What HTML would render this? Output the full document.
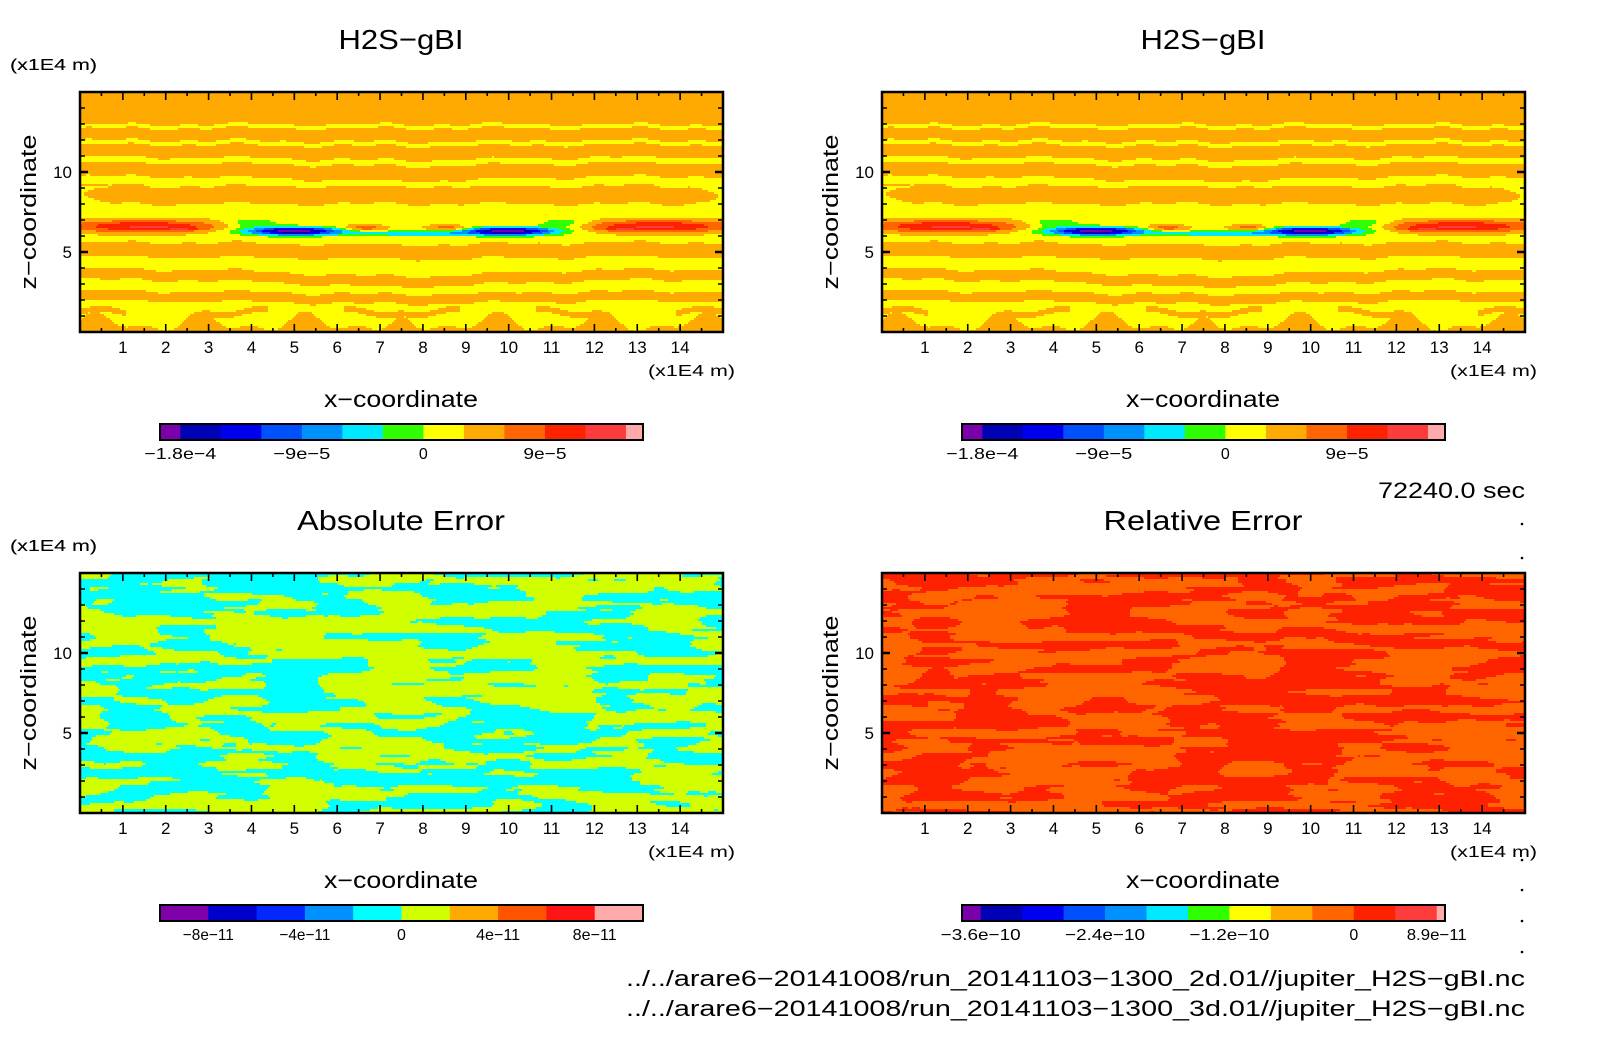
<!DOCTYPE html>
<html><head><meta charset="utf-8"><style>
html,body{margin:0;padding:0;background:#fff;}
#root{position:relative;width:1604px;height:1054px;overflow:hidden;background:#fff;font-family:"Liberation Sans",sans-serif;}
canvas{position:absolute;image-rendering:pixelated;}
svg{position:absolute;left:0;top:0;}
</style></head><body>
<div id="root">
<canvas id="c0"></canvas>
<canvas id="c1"></canvas>
<canvas id="c2"></canvas>
<canvas id="c3"></canvas>
<svg id="s" width="1604" height="1054"></svg>
</div>
<script>
// ---- data ----
const xTicks = [1,2,3,4,5,6,7,8,9,10,11,12,13,14];
const yTicks = [5,10];
const panelTitles = ["H2S\u2212gBI","H2S\u2212gBI","Absolute Error","Relative Error"];
const titleLens = [125,125,208,199];
const mainColors = ["#7a00aa","#0000b4","#0000f0","#0050ff","#0090ff","#00e8ff","#30ff00","#ffff00","#ffaa00","#ff6600","#ff2200","#ff3c3c","#ffaaaa"];
const mainLevels = [-2.1e-4,-1.8e-4,-1.5e-4,-1.2e-4,-9e-5,-6e-5,-3e-5,0,3e-5,6e-5,9e-5,1.2e-4];
const mainLabels = ["\u22121.8e\u22124","\u22129e\u22125","0","9e\u22125"];
const mainLabelLens = [72,57,0,43];
const mainLabelIdx = [1,4,7,10];
const absColors = ["#8000aa","#0000cc","#0028ff","#0090ff","#00ffff","#d2ff00","#ffaa00","#ff5500","#ff1414","#ffaaaa"];
const absLabels = ["\u22128e\u221211","\u22124e\u221211","0","4e\u221211","8e\u221211"];
const absLabelLens = [51,51,0,44,44];
const absLabelIdx = [1,3,5,7,9];
const relLabels = ["\u22123.6e\u221210","\u22122.4e\u221210","\u22121.2e\u221210","0","8.9e\u221211"];
const relLabelLens = [80,80,80,0,60];
const relLabelIdx = [1,4,7,10,12];
// blobs: x, z, sx, sz, amplitude
const blobX = [1.5,13.5,6.6,8.6,5.0,10.0,7.7,4.0,11.3,2.4,12.6];
const blobZ = [6.6,6.6,6.5,6.5,6.3,6.3,6.15,6.8,6.8,6.45,6.45];
const blobSX = [1.8,1.8,0.5,0.5,1.1,1.1,1.3,0.6,0.6,0.4,0.4];
const blobSZ = [0.38,0.38,0.18,0.18,0.25,0.25,0.15,0.3,0.3,0.1,0.1];
const blobAmp = [1.05e-4,1.05e-4,7e-5,7e-5,-2.25e-4,-2.25e-4,-8e-5,-5e-5,-5e-5,4e-5,4e-5];
// upper thin yellow lines (z centre, half width, centre dip)
const yLineZ = [12.85,11.85,10.75,9.45];
const yLineHW = [0.12,0.13,0.18,0.28];
const yLineDip = [0.0,0.1,0.2,0.3];
// lower orange bands (z centre, half width, centre sag)
const oBandZ = [8.55,5.15,3.6,2.25];
const oBandHW = [0.55,0.45,0.33,0.3];
const oBandSag = [0.0,0.15,0.45,0.2];

const plotW=643, plotH=240;
const panels=[[80,92],[882,92],[80,573],[882,573]];
const xs=v=>v/15*plotW, zs=v=>plotH-v/15*plotH;

// ---- fields ----
function mainVal(x,z){
  const c=Math.exp(-(((x-7.5)/3.2)**2));
  const w=0.08*Math.sin(2.1*x)+0.06*Math.sin(5.3*x+1);
  let v;
  if(z>9.1){
    v=1e-5;
    for(let i=0;i<yLineZ.length;i++){const zc=yLineZ[i]-yLineDip[i]*c+w;if(Math.abs(z-zc)<yLineHW[i])v=-1e-5;}
  } else {
    v=-1e-5;
    for(let i=0;i<oBandZ.length;i++){const zc=oBandZ[i]-oBandSag[i]*c+w;let hw=oBandHW[i];
      if(i===0){const e=Math.min(x,15-x);if(e<0.8)hw*=Math.sqrt(Math.max(0,e-0.1)/0.7);}
      if(Math.abs(z-zc)<hw)v=1e-5;}
    if(z<1.7){
      const xm=Math.min(x,15-x);
      const h=0.55+0.45*Math.sin(2.6*xm+0.4)+0.3*Math.sin(5.1*xm);
      if(z<h)v=1e-5;
      const h2=1.25+0.2*Math.sin(3.3*xm);
      if(Math.abs(z-h2)<0.18&&Math.sin(1.9*xm+1)>0.1)v=1e-5;
    }
  }
  for(let i=0;i<blobX.length;i++){
    v+=blobAmp[i]*Math.exp(-((((x-blobX[i])/blobSX[i])**2)+(((z-blobZ[i])/blobSZ[i])**2)));
  }
  return v;
}
function colorFor(v){let i=0;while(i<mainLevels.length&&v>=mainLevels[i])i++;return mainColors[i];}
function hash(i,j,s){let h=(i*374761393+j*668265263+s*1442695041)|0;h=(h^(h>>>13))*1274126177|0;h=h^(h>>>16);return (h>>>0)/4294967296;}
function vnoise(x,y,s){const i=Math.floor(x),j=Math.floor(y),fx=x-i,fy=y-j;const u=fx*fx*(3-2*fx),w=fy*fy*(3-2*fy);
  const a=hash(i,j,s),b=hash(i+1,j,s),c=hash(i,j+1,s),d=hash(i+1,j+1,s);return a+(b-a)*u+(c-a)*w+(a-b-c+d)*u*w;}
function fbm(x,z,s){return 0.62*vnoise(x*0.8,z*2.0,s)+0.28*vnoise(x*1.7,z*4.2,s+7)+0.10*vnoise(x*3.5,z*8,s+13);}
function drawField(id,k){
  const c=document.getElementById(id);const [px,py]=panels[k];
  c.style.left=px+'px';c.style.top=py+'px';c.width=plotW;c.height=plotH;c.style.width=plotW+'px';c.style.height=plotH+'px';
  const g=c.getContext('2d');
  for(let j=0;j<plotH;j+=2)for(let i=0;i<plotW;i+=2){
    const x=(i+1)/plotW*15,z=15-(j+1)/plotH*15;let col;
    if(k<2) col=colorFor(mainVal(x,z));
    else if(k===2) col=fbm(x,z,3)>0.52?"#00ffff":"#d2ff00";
    else col=fbm(x,z,11)>0.5?"#ff2200":"#ff6600";
    g.fillStyle=col;g.fillRect(i,j,2,2);
  }
}
drawField('c0',0);drawField('c1',1);drawField('c2',2);drawField('c3',3);

// ---- annotations ----
const s=document.getElementById('s');const NS="http://www.w3.org/2000/svg";
function el(tag,attrs,text){const e=document.createElementNS(NS,tag);for(const k in attrs)e.setAttribute(k,attrs[k]);if(text!==undefined)e.textContent=text;s.appendChild(e);return e;}
function txt(x,y,t,size,anchor,name,len){const e=el('text',{x:x,y:y,'font-size':size,'text-anchor':anchor||'middle','font-family':'Liberation Sans, sans-serif',fill:'#000'},t);
  if(len){e.setAttribute('textLength',len);e.setAttribute('lengthAdjust','spacingAndGlyphs');}
  
  return e;}
function colorbar(x0,y0,w,h,colors,labels,lens,idx,halfEnds,name){
  const n=colors.length;const fw=halfEnds[0],lw=halfEnds[1];const unit=w/(n-2+fw+lw);
  let x=x0;
  for(let i=0;i<n;i++){const ww=i===0?fw*unit:(i===n-1?lw*unit:unit);
    const r=el('rect',{x:x,y:y0,width:ww+0.5,height:h,fill:colors[i]});
    
    
    x+=ww;}
  const fr=el('rect',{x:x0,y:y0,width:w,height:h,fill:'none',stroke:'#000','stroke-width':2});
  
  
  labels.forEach((t,k)=>{const b=x0+fw*unit+(idx[k]-1)*unit;txt(b,y0+h+19,t,16,'middle',name+'-label',lens[k]);});
}
panels.forEach(([px,py],k)=>{
  txt(px+321,py-43,panelTitles[k],28,'middle','panel-title',titleLens[k]);
  txt(10,py-22,"(x1E4 m)",16,'start','y-unit-label',87);
  const fr=el('rect',{x:px,y:py,width:plotW,height:plotH,fill:'none',stroke:'#000','stroke-width':2.5});
  
  
  for(let v=0.5;v<15;v+=0.5){const major=Number.isInteger(v);const L=major?8:4;const X=px+xs(v);
    el('line',{x1:X,y1:py+plotH,x2:X,y2:py+plotH-L,stroke:'#000','stroke-width':1.6});
    el('line',{x1:X,y1:py,x2:X,y2:py+L,stroke:'#000','stroke-width':1.6});}
  for(let v=1;v<15;v++){const major=v%5===0;const L=major?8:5;const Y=py+zs(v);
    el('line',{x1:px,y1:Y,x2:px+L,y2:Y,stroke:'#000','stroke-width':major?2.5:1.5});
    el('line',{x1:px+plotW,y1:Y,x2:px+plotW-L,y2:Y,stroke:'#000','stroke-width':major?2.5:1.5});}
  xTicks.forEach(v=>txt(px+xs(v),py+261,String(v),17,'middle','x-tick-label'));
  yTicks.forEach(v=>txt(px-8,py+zs(v)+6,String(v),17,'end','y-tick-label'));
  const yt=txt(0,0,"z\u2212coordinate",22,'middle','y-axis-title',155);
  yt.setAttribute('transform','translate('+(px-44)+','+(py+120)+') rotate(-90)');
  txt(px+655,py+284,"(x1E4 m)",16,'end','x-unit-label',87);
  txt(px+321,py+315,"x\u2212coordinate",23,'middle','x-axis-title',154);
  if(k<2) colorbar(px+80,py+332,483,16,mainColors,mainLabels,mainLabelLens,mainLabelIdx,[0.5,0.42],'colorbar');
  else if(k===2) colorbar(px+80,py+332,483,16,absColors,absLabels,absLabelLens,absLabelIdx,[1,1],'colorbar');
  else colorbar(px+80,py+332,483,16,mainColors,relLabels,relLabelLens,relLabelIdx,[0.45,0.2],'colorbar');
});
txt(1525,498,"72240.0 sec",22,'end','time-label',147);
txt(1525,986,"../../arare6\u221220141008/run_20141103\u22121300_2d.01//jupiter_H2S\u2212gBI.nc",22,'end','file-path-2d',899);
txt(1525,1016,"../../arare6\u221220141008/run_20141103\u22121300_3d.01//jupiter_H2S\u2212gBI.nc",22,'end','file-path-3d',899);
[524,558,860,890,921,952].forEach(y=>{const d=el('circle',{cx:1522,cy:y,r:1.3,fill:'#000'});
  
  });
</script>
</body></html>
